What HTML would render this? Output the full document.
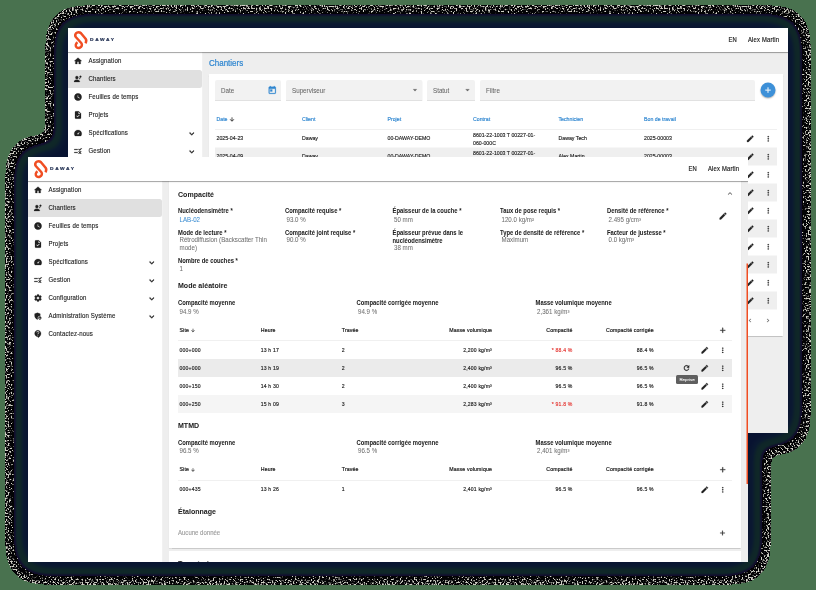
<!DOCTYPE html>
<html><head><meta charset="utf-8"><style>
*{box-sizing:border-box;margin:0;padding:0}
html,body{width:816px;height:590px;overflow:hidden;background:#49724f;font-family:"Liberation Sans",sans-serif;color:#212121}
#shadow{position:absolute;left:0;top:0}
.win{position:absolute;width:1440px;height:810px;transform:scale(0.5);transform-origin:0 0;overflow:hidden;background:#eeeeee}
#bw{left:68px;top:28px}
#fw{left:28px;top:157px}
.hdr{position:absolute;left:0;top:0;width:1440px;height:48px;background:#fff;box-shadow:0 1px 1px rgba(0,0,0,.28),0 2px 4px rgba(0,0,0,.1);z-index:3}
.side{position:absolute;left:0;top:48px;width:270px;height:762px;background:#fff;border-right:1px solid #e3e3e3;z-index:2}
.t{position:absolute;white-space:nowrap;-webkit-text-stroke:0.3px currentColor}
.r{position:absolute}
.ic{position:absolute;display:block}
</style></head><body>
<svg id="shadow" width="816" height="590">
<defs>
<filter id="sh" x="-20%" y="-20%" width="140%" height="140%" color-interpolation-filters="sRGB">
<feGaussianBlur in="SourceAlpha" stdDeviation="12" result="b"/>
<feComponentTransfer in="b" result="m1"><feFuncA type="linear" slope="400" intercept="-8"/></feComponentTransfer>
<feComponentTransfer in="b" result="m2"><feFuncA type="linear" slope="400" intercept="-46"/></feComponentTransfer>
<feTurbulence type="fractalNoise" baseFrequency="0.62" numOctaves="1" seed="7" result="n"/>
<feColorMatrix in="n" type="matrix" values="1 0 0 0 0 1 0 0 0 0 1 0 0 0 0 0 0 0 0 1" result="ng"/>
<feColorMatrix in="b" type="matrix" values="0 0 0 -1 1 0 0 0 -1 1 0 0 0 -1 1 0 0 0 0 1" result="ga0"/>
<feComposite in="ng" in2="ga0" operator="arithmetic" k1="0" k2="1" k3="1.2" k4="-1.176" result="nm"/>
<feColorMatrix in="nm" type="matrix" values="0 0 0 0 0.82 0 0 0 0 0.82 0 0 0 0 0.78 8 0 0 0 -3.84" result="spk"/>
<feFlood flood-color="#030305" result="blk"/>
<feComposite in="spk" in2="blk" operator="over" result="tex"/>
<feComposite in="tex" in2="m1" operator="in" result="o1"/>
<feColorMatrix in="b" type="matrix" values="0 0 0 1 0 0 0 0 1 0 0 0 0 1 0 0 0 0 0 1" result="ga"/>
<feComponentTransfer in="ga" result="grad"><feFuncR type="table" tableValues="0.071 0.071 0.071 0.071 0.071 0.071 0.071 0.068 0.062 0.059 0.059 0.059 0.059 0.059 0.056 0.053 0.049 0.046 0.043 0.042 0.041 0.040 0.039 0.038 0.036 0.035 0.035 0.035 0.035 0.035 0.035 0.035 0.035 0.035 0.035 0.035 0.035 0.035 0.035 0.035 0.035 0.035 0.035 0.035 0.035 0.035 0.035 0.035 0.035 0.035 0.035"/><feFuncG type="table" tableValues="0.047 0.047 0.047 0.047 0.047 0.047 0.047 0.075 0.129 0.156 0.154 0.153 0.151 0.149 0.140 0.130 0.121 0.111 0.102 0.099 0.095 0.092 0.089 0.085 0.082 0.078 0.078 0.078 0.078 0.078 0.078 0.078 0.078 0.078 0.078 0.078 0.078 0.078 0.078 0.078 0.078 0.078 0.078 0.078 0.078 0.078 0.078 0.078 0.078 0.078 0.078"/><feFuncB type="table" tableValues="0.180 0.180 0.180 0.180 0.180 0.180 0.180 0.175 0.163 0.157 0.157 0.157 0.157 0.157 0.165 0.173 0.180 0.188 0.196 0.196 0.196 0.196 0.196 0.196 0.196 0.196 0.196 0.196 0.196 0.196 0.196 0.196 0.196 0.196 0.196 0.196 0.196 0.196 0.196 0.196 0.196 0.196 0.196 0.196 0.196 0.196 0.196 0.196 0.196 0.196 0.196"/></feComponentTransfer>
<feComposite in="grad" in2="m2" operator="in" result="o2"/>
<feMerge><feMergeNode in="o1"/><feMergeNode in="o2"/></feMerge>
</filter>
</defs>
<g filter="url(#sh)"><rect x="68" y="28" width="720" height="405" fill="#000"/><rect x="28" y="157" width="720" height="405" fill="#000"/></g>
</svg>
<div class="win" id="bw"><div class="hdr"><svg class="ic" style="left:1.5px;top:1px;width:48px;height:48px" viewBox="0 0 48 48"><path fill="none" stroke="#f04e23" stroke-width="5" stroke-linecap="butt" stroke-linejoin="round" d="M32.8 29.5 C35 26 35 23 33.2 20.5 L24 9.5 C21 6.5 16.5 6.5 14 9.5 C12 12 12 15 14 17.5 L24.5 29 C27 32 26 37 21.5 38.5 C17 40 13 37 13.5 33 C14 30 15.5 28.5 17 27.5"/></svg><div class="t" style="left:44.0px;top:17.8px;font-size:8.4px;line-height:10.08px;color:#1c2b4e;font-weight:bold;letter-spacing:2.85px;transform:scaleX(1.16);transform-origin:0 0;-webkit-text-stroke:0.35px #1c2b4e">DAWAY</div><div class="t" style="left:1321.0px;top:15.2px;font-size:13px;line-height:15.6px;color:#212121;font-weight:normal;letter-spacing:.4px;-webkit-text-stroke:0.35px #212121;transform:scaleX(0.9);transform-origin:left center">EN</div><div class="t" style="left:1360.0px;top:15.2px;font-size:13px;line-height:15.6px;color:#212121;font-weight:normal;letter-spacing:.4px;-webkit-text-stroke:0.35px #212121;transform:scaleX(0.9);transform-origin:left center">Alex Martin</div></div><div class="side"><svg class="ic" style="left:11.0px;top:9.0px;width:18px;height:18px" viewBox="0 0 24 24"><path fill="#212121" stroke="#212121" stroke-width="0.6" stroke-linejoin="round" d="M10 20v-6h4v6h5v-8h3L12 3 2 12h3v8z"/></svg><div class="t" style="left:41.0px;top:8.3px;font-size:14.2px;line-height:17.04px;color:#212121;font-weight:normal;letter-spacing:0.3px;-webkit-text-stroke:0.25px #212121;transform:scaleX(0.86);transform-origin:left center">Assignation</div><div class="r" style="left:0px;top:36px;width:268px;height:36px;background:#e0e0e0;border-radius:0 5px 5px 0"></div><svg class="ic" style="left:11.0px;top:45.0px;width:18px;height:18px" viewBox="0 0 24 24"><path fill="#212121" stroke="#212121" stroke-width="0.6" stroke-linejoin="round" d="M9 4a4 4 0 1 1 0 8 4 4 0 0 1 0-8zm0 10c-3.5 0-7.5 1.75-7.5 4.2V20h15v-1.8c0-2.45-4-4.2-7.5-4.2zM18.6 3.2a2.4 2.4 0 1 1 0 4.8 2.4 2.4 0 0 1 0-4.8zM17.2 8.2l1.3.7-2.1 3.6-1.3-.7z"/></svg><div class="t" style="left:41.0px;top:44.3px;font-size:14.2px;line-height:17.04px;color:#212121;font-weight:normal;letter-spacing:0.3px;-webkit-text-stroke:0.25px #212121;transform:scaleX(0.86);transform-origin:left center">Chantiers</div><svg class="ic" style="left:11.0px;top:81.0px;width:18px;height:18px" viewBox="0 0 24 24"><path fill="#212121" fill-rule="evenodd" stroke="#212121" stroke-width="0.15" stroke-linejoin="round" d="M11.99 2C6.47 2 2 6.48 2 12s4.47 10 9.99 10C17.52 22 22 17.52 22 12S17.52 2 11.99 2zM16.2 16.2 11 13V7h1.5v5.2l4.5 2.7-.8 1.3z"/></svg><div class="t" style="left:41.0px;top:80.3px;font-size:14.2px;line-height:17.04px;color:#212121;font-weight:normal;letter-spacing:0.3px;-webkit-text-stroke:0.25px #212121;transform:scaleX(0.86);transform-origin:left center">Feuilles de temps</div><svg class="ic" style="left:11.0px;top:117.0px;width:18px;height:18px" viewBox="0 0 24 24"><path fill="#212121" stroke="#212121" stroke-width="0.6" stroke-linejoin="round" d="M14 2H6c-1.1 0-1.99.9-1.99 2L4 20c0 1.1.89 2 1.99 2H18c1.1 0 2-.9 2-2V8l-6-6zm-3.06 16L7.4 14.46l1.41-1.41 2.12 2.12 4.24-4.24 1.41 1.41L10.94 18zM13 9V3.5L18.5 9H13z"/></svg><div class="t" style="left:41.0px;top:116.3px;font-size:14.2px;line-height:17.04px;color:#212121;font-weight:normal;letter-spacing:0.3px;-webkit-text-stroke:0.25px #212121;transform:scaleX(0.86);transform-origin:left center">Projets</div><svg class="ic" style="left:11.0px;top:153.0px;width:18px;height:18px" viewBox="0 0 24 24"><path fill="#212121" stroke="#212121" stroke-width="0.6" stroke-linejoin="round" d="M12 4C6.48 4 2 8.48 2 14c0 2.02.6 3.9 1.63 5.47.2.33.56.53.95.53h14.84c.39 0 .75-.2.95-.53C21.4 17.9 22 16.02 22 14c0-5.52-4.48-10-10-10zm1.41 11.41c-.78.78-2.05.78-2.83 0-.78-.78-.78-2.05 0-2.83L17 9l-3.59 6.41z"/></svg><div class="t" style="left:41.0px;top:152.3px;font-size:14.2px;line-height:17.04px;color:#212121;font-weight:normal;letter-spacing:0.3px;-webkit-text-stroke:0.25px #212121;transform:scaleX(0.86);transform-origin:left center">Spécifications</div><svg class="ic" style="left:237.5px;top:153.5px;width:19px;height:19px" viewBox="0 0 24 24"><path fill="#212121" stroke="#212121" stroke-width="1.2" stroke-linejoin="round" d="M16.59 8.59 12 13.17 7.41 8.59 6 10l6 6 6-6z"/></svg><svg class="ic" style="left:11.0px;top:189.0px;width:18px;height:18px" viewBox="0 0 24 24"><path fill="#212121" stroke="#212121" stroke-width="0.6" stroke-linejoin="round" d="M16.54 11 13 7.46l1.41-1.41 2.12 2.12 4.24-4.24 1.41 1.41L16.54 11zM11 7H2v2h9V7zm10 6.41L19.59 12 17 14.59 14.41 12 13 13.41 15.59 16 13 18.59 14.41 20 17 17.41 19.59 20 21 18.59 18.41 16 21 13.41zM11 15H2v2h9v-2z"/></svg><div class="t" style="left:41.0px;top:188.3px;font-size:14.2px;line-height:17.04px;color:#212121;font-weight:normal;letter-spacing:0.3px;-webkit-text-stroke:0.25px #212121;transform:scaleX(0.86);transform-origin:left center">Gestion</div><svg class="ic" style="left:237.5px;top:189.5px;width:19px;height:19px" viewBox="0 0 24 24"><path fill="#212121" stroke="#212121" stroke-width="1.2" stroke-linejoin="round" d="M16.59 8.59 12 13.17 7.41 8.59 6 10l6 6 6-6z"/></svg><svg class="ic" style="left:11.0px;top:225.0px;width:18px;height:18px" viewBox="0 0 24 24"><path fill="#212121" stroke="#212121" stroke-width="0.6" stroke-linejoin="round" d="M19.14 12.94c.04-.3.06-.61.06-.94 0-.32-.02-.64-.07-.94l2.03-1.58a.49.49 0 0 0 .12-.61l-1.92-3.32a.488.488 0 0 0-.59-.22l-2.39.96c-.5-.38-1.03-.7-1.62-.94l-.36-2.54a.484.484 0 0 0-.48-.41h-3.84c-.24 0-.43.17-.47.41l-.36 2.54c-.59.24-1.13.57-1.62.94l-2.39-.96c-.22-.08-.47 0-.59.22L2.74 8.87c-.12.21-.08.47.12.61l2.03 1.58c-.05.3-.09.63-.09.94s.02.64.07.94l-2.03 1.58a.49.49 0 0 0-.12.61l1.92 3.32c.12.22.37.29.59.22l2.39-.96c.5.38 1.03.7 1.62.94l.36 2.54c.05.24.24.41.48.41h3.84c.24 0 .44-.17.47-.41l.36-2.54c.59-.24 1.13-.56 1.62-.94l2.39.96c.22.08.47 0 .59-.22l1.92-3.32c.12-.22.07-.47-.12-.61l-2.01-1.58zM12 15.6c-1.98 0-3.6-1.62-3.6-3.6s1.62-3.6 3.6-3.6 3.6 1.62 3.6 3.6-1.62 3.6-3.6 3.6z"/></svg><div class="t" style="left:41.0px;top:224.3px;font-size:14.2px;line-height:17.04px;color:#212121;font-weight:normal;letter-spacing:0.3px;-webkit-text-stroke:0.25px #212121;transform:scaleX(0.86);transform-origin:left center">Configuration</div><svg class="ic" style="left:237.5px;top:225.5px;width:19px;height:19px" viewBox="0 0 24 24"><path fill="#212121" stroke="#212121" stroke-width="1.2" stroke-linejoin="round" d="M16.59 8.59 12 13.17 7.41 8.59 6 10l6 6 6-6z"/></svg><svg class="ic" style="left:11.0px;top:261.0px;width:18px;height:18px" viewBox="0 0 24 24"><path fill="#212121" stroke="#212121" stroke-width="0.6" stroke-linejoin="round" d="M17 11c.34 0 .67.04 1 .09V6.27L10.5 3 3 6.27v4.91c0 4.54 3.2 8.79 7.5 9.82.55-.13 1.08-.32 1.6-.55-.69-.98-1.1-2.17-1.1-3.45 0-3.31 2.69-6 6-6zm0 2c-2.21 0-4 1.79-4 4s1.79 4 4 4 4-1.79 4-4-1.79-4-4-4zm0 1.38c.62 0 1.12.51 1.12 1.12s-.51 1.12-1.12 1.12-1.12-.51-1.12-1.12.5-1.12 1.12-1.12zm0 5.37c-.93 0-1.74-.46-2.24-1.17.05-.72 1.51-1.08 2.24-1.08s2.19.36 2.24 1.08c-.5.71-1.31 1.17-2.24 1.17z"/></svg><div class="t" style="left:41.0px;top:260.3px;font-size:14.2px;line-height:17.04px;color:#212121;font-weight:normal;letter-spacing:0.3px;-webkit-text-stroke:0.25px #212121;transform:scaleX(0.86);transform-origin:left center">Administration Système</div><svg class="ic" style="left:237.5px;top:261.5px;width:19px;height:19px" viewBox="0 0 24 24"><path fill="#212121" stroke="#212121" stroke-width="1.2" stroke-linejoin="round" d="M16.59 8.59 12 13.17 7.41 8.59 6 10l6 6 6-6z"/></svg><svg class="ic" style="left:11.0px;top:297.0px;width:18px;height:18px" viewBox="0 0 24 24"><path fill="#212121" stroke="#212121" stroke-width="0.6" stroke-linejoin="round" d="M11.5 2C6.81 2 3 5.81 3 10.5S6.81 19 11.5 19h.5v3c4.86-2.34 8-7 8-11.5C20 5.81 16.19 2 11.5 2zm1 14.5h-2v-2h2v2zm.4-4.78c-.01.01-.02.03-.03.05-.05.08-.1.16-.14.24-.02.03-.03.07-.04.11-.03.07-.06.14-.08.21-.07.21-.1.43-.1.68H10.5c0-.51.08-.94.2-1.3.01-.03.01-.05.02-.08.01-.02.02-.04.03-.06.06-.16.13-.3.22-.44.03-.05.07-.1.1-.15.03-.04.05-.09.08-.12.03-.04.07-.07.1-.11.84-1.1 2.22-1.44 2.33-2.68.09-.98-.61-1.93-1.57-2.13-1.04-.22-1.98.39-2.3 1.28-.14.36-.47.65-.88.65h-.2c-.6 0-1.04-.59-.87-1.17.55-1.82 2.37-3.09 4.43-2.79 1.69.25 3.04 1.64 3.33 3.33.44 2.44-1.63 3.03-2.53 4.35z"/></svg><div class="t" style="left:41.0px;top:296.3px;font-size:14.2px;line-height:17.04px;color:#212121;font-weight:normal;letter-spacing:0.3px;-webkit-text-stroke:0.25px #212121;transform:scaleX(0.86);transform-origin:left center">Contactez-nous</div></div><div class="t" style="left:282.0px;top:57.8px;font-size:18.6px;line-height:22.32px;color:#2f86d0;font-weight:normal;-webkit-text-stroke:0.45px #2f86d0;transform:scaleX(0.86);transform-origin:left center">Chantiers</div><div class="r" style="left:282px;top:92px;width:1148px;height:524px;background:#fff;box-shadow:0 1px 2px rgba(0,0,0,.18)"></div><div class="r" style="left:294px;top:104px;width:132px;height:41px;background:#f2f2f2;border-bottom:1.5px solid #8f8f8f;border-radius:4px 4px 0 0"></div><div class="t" style="left:306.0px;top:115.5px;font-size:14.2px;line-height:17.04px;color:#666;font-weight:normal;-webkit-text-stroke:0.1px #666;transform:scaleX(0.88);transform-origin:left center">Date</div><div class="r" style="left:436px;top:104px;width:273px;height:41px;background:#f2f2f2;border-bottom:1.5px solid #8f8f8f;border-radius:4px 4px 0 0"></div><div class="t" style="left:448.0px;top:115.5px;font-size:14.2px;line-height:17.04px;color:#666;font-weight:normal;-webkit-text-stroke:0.1px #666;transform:scaleX(0.88);transform-origin:left center">Superviseur</div><svg class="ic" style="left:684.5px;top:115.0px;width:18px;height:18px" viewBox="0 0 24 24"><path fill="#666" stroke="#666" stroke-width="0.6" stroke-linejoin="round" d="M7 10l5 5 5-5z"/></svg><div class="r" style="left:718px;top:104px;width:96px;height:41px;background:#f2f2f2;border-bottom:1.5px solid #8f8f8f;border-radius:4px 4px 0 0"></div><div class="t" style="left:730.0px;top:115.5px;font-size:14.2px;line-height:17.04px;color:#666;font-weight:normal;-webkit-text-stroke:0.1px #666;transform:scaleX(0.88);transform-origin:left center">Statut</div><svg class="ic" style="left:790.0px;top:115.0px;width:18px;height:18px" viewBox="0 0 24 24"><path fill="#666" stroke="#666" stroke-width="0.6" stroke-linejoin="round" d="M7 10l5 5 5-5z"/></svg><div class="r" style="left:824px;top:104px;width:550px;height:41px;background:#f2f2f2;border-bottom:1.5px solid #8f8f8f;border-radius:4px 4px 0 0"></div><div class="t" style="left:836.0px;top:115.5px;font-size:14.2px;line-height:17.04px;color:#666;font-weight:normal;-webkit-text-stroke:0.1px #666;transform:scaleX(0.88);transform-origin:left center">Filtre</div><svg class="ic" style="left:398.5px;top:114.5px;width:19px;height:19px" viewBox="0 0 24 24"><path fill="#2f86d0" stroke="#2f86d0" stroke-width="0.6" stroke-linejoin="round" d="M19 3h-1V1h-2v2H8V1H6v2H5c-1.11 0-1.99.9-1.99 2L3 19c0 1.1.89 2 2 2h14c1.1 0 2-.9 2-2V5c0-1.1-.9-2-2-2zm0 16H5V8h14v11zM7 10h5v5H7z"/></svg><div class="r" style="left:1385px;top:109px;width:30px;height:30px;border-radius:50%;background:#3d90d8;box-shadow:0 2px 3px rgba(0,0,0,.3)"></div><svg class="ic" style="left:1391.0px;top:115.0px;width:18px;height:18px" viewBox="0 0 24 24"><path fill="#fff" stroke="#fff" stroke-width="0.6" stroke-linejoin="round" d="M19 13h-6v6h-2v-6H5v-2h6V5h2v6h6v2z"/></svg><div class="t" style="left:297.0px;top:174.5px;font-size:11.6px;line-height:13.92px;color:#2f86d0;font-weight:normal;-webkit-text-stroke:0.35px #2f86d0;transform:scaleX(0.9);transform-origin:left center">Date</div><div class="t" style="left:468.0px;top:174.5px;font-size:11.6px;line-height:13.92px;color:#2f86d0;font-weight:normal;-webkit-text-stroke:0.35px #2f86d0;transform:scaleX(0.9);transform-origin:left center">Client</div><div class="t" style="left:639.0px;top:174.5px;font-size:11.6px;line-height:13.92px;color:#2f86d0;font-weight:normal;-webkit-text-stroke:0.35px #2f86d0;transform:scaleX(0.9);transform-origin:left center">Projet</div><div class="t" style="left:809.5px;top:174.5px;font-size:11.6px;line-height:13.92px;color:#2f86d0;font-weight:normal;-webkit-text-stroke:0.35px #2f86d0;transform:scaleX(0.9);transform-origin:left center">Contrat</div><div class="t" style="left:980.5px;top:174.5px;font-size:11.6px;line-height:13.92px;color:#2f86d0;font-weight:normal;-webkit-text-stroke:0.35px #2f86d0;transform:scaleX(0.9);transform-origin:left center">Technicien</div><div class="t" style="left:1151.5px;top:174.5px;font-size:11.6px;line-height:13.92px;color:#2f86d0;font-weight:normal;-webkit-text-stroke:0.35px #2f86d0;transform:scaleX(0.9);transform-origin:left center">Bon de travail</div><svg class="ic" style="left:322.0px;top:176.5px;width:12px;height:12px" viewBox="0 0 24 24"><path fill="#333" stroke="#333" stroke-width="1" stroke-linejoin="round" d="M20 12l-1.41-1.41L13 16.17V4h-2v12.17l-5.58-5.59L4 12l8 8 8-8z"/></svg><div class="r" style="left:294px;top:202px;width:1124px;height:1px;background:#e0e0e0;"></div><div class="t" style="left:297.0px;top:212.0px;font-size:11.6px;line-height:13.92px;color:#212121;font-weight:normal;;transform:scaleX(0.9);transform-origin:left center">2025-04-23</div><div class="t" style="left:468.0px;top:212.0px;font-size:11.6px;line-height:13.92px;color:#212121;font-weight:normal;;transform:scaleX(0.9);transform-origin:left center">Daway</div><div class="t" style="left:639.0px;top:212.0px;font-size:11.6px;line-height:13.92px;color:#212121;font-weight:normal;;transform:scaleX(0.9);transform-origin:left center">00-DAWAY-DEMO</div><div class="t" style="left:809.5px;top:205.5px;font-size:11.6px;line-height:15px;color:#212121;font-weight:normal;;transform:scaleX(0.9);transform-origin:left center">8601-22-1003 T 00227-01-<br>060-000C</div><div class="t" style="left:980.5px;top:212.0px;font-size:11.6px;line-height:13.92px;color:#212121;font-weight:normal;;transform:scaleX(0.9);transform-origin:left center">Daway Tech</div><div class="t" style="left:1151.5px;top:212.0px;font-size:11.6px;line-height:13.92px;color:#212121;font-weight:normal;;transform:scaleX(0.9);transform-origin:left center">2025-00003</div><svg class="ic" style="left:1355.5px;top:212.5px;width:17px;height:17px" viewBox="0 0 24 24"><path fill="#212121" stroke="#212121" stroke-width="0.9" stroke-linejoin="round" d="M3 17.25V21h3.75L17.81 9.94l-3.75-3.75L3 17.25zM20.71 7.04c.39-.39.39-1.02 0-1.41l-2.34-2.34a.996.996 0 0 0-1.41 0l-1.83 1.83 3.75 3.75 1.83-1.83z"/></svg><svg class="ic" style="left:1391.5px;top:212.5px;width:17px;height:17px" viewBox="0 0 24 24"><path fill="#212121" stroke="#212121" stroke-width="0.4" stroke-linejoin="round" d="M12 8c1.1 0 2-.9 2-2s-.9-2-2-2-2 .9-2 2 .9 2 2 2zm0 2c-1.1 0-2 .9-2 2s.9 2 2 2 2-.9 2-2-.9-2-2-2zm0 6c-1.1 0-2 .9-2 2s.9 2 2 2 2-.9 2-2-.9-2-2-2z"/></svg><div class="r" style="left:294px;top:239px;width:1124px;height:36px;background:#efefef;"></div><div class="t" style="left:297.0px;top:248.0px;font-size:11.6px;line-height:13.92px;color:#212121;font-weight:normal;;transform:scaleX(0.9);transform-origin:left center">2025-04-09</div><div class="t" style="left:468.0px;top:248.0px;font-size:11.6px;line-height:13.92px;color:#212121;font-weight:normal;;transform:scaleX(0.9);transform-origin:left center">Daway</div><div class="t" style="left:639.0px;top:248.0px;font-size:11.6px;line-height:13.92px;color:#212121;font-weight:normal;;transform:scaleX(0.9);transform-origin:left center">00-DAWAY-DEMO</div><div class="t" style="left:809.5px;top:241.5px;font-size:11.6px;line-height:15px;color:#212121;font-weight:normal;;transform:scaleX(0.9);transform-origin:left center">8601-22-1003 T 00227-01-<br>060-000C</div><div class="t" style="left:980.5px;top:248.0px;font-size:11.6px;line-height:13.92px;color:#212121;font-weight:normal;;transform:scaleX(0.9);transform-origin:left center">Alex Martin</div><div class="t" style="left:1151.5px;top:248.0px;font-size:11.6px;line-height:13.92px;color:#212121;font-weight:normal;;transform:scaleX(0.9);transform-origin:left center">2025-00003</div><svg class="ic" style="left:1355.5px;top:248.5px;width:17px;height:17px" viewBox="0 0 24 24"><path fill="#212121" stroke="#212121" stroke-width="0.9" stroke-linejoin="round" d="M3 17.25V21h3.75L17.81 9.94l-3.75-3.75L3 17.25zM20.71 7.04c.39-.39.39-1.02 0-1.41l-2.34-2.34a.996.996 0 0 0-1.41 0l-1.83 1.83 3.75 3.75 1.83-1.83z"/></svg><svg class="ic" style="left:1391.5px;top:248.5px;width:17px;height:17px" viewBox="0 0 24 24"><path fill="#212121" stroke="#212121" stroke-width="0.4" stroke-linejoin="round" d="M12 8c1.1 0 2-.9 2-2s-.9-2-2-2-2 .9-2 2 .9 2 2 2zm0 2c-1.1 0-2 .9-2 2s.9 2 2 2 2-.9 2-2-.9-2-2-2zm0 6c-1.1 0-2 .9-2 2s.9 2 2 2 2-.9 2-2-.9-2-2-2z"/></svg><div class="t" style="left:297.0px;top:284.0px;font-size:11.6px;line-height:13.92px;color:#212121;font-weight:normal;;transform:scaleX(0.9);transform-origin:left center">2025-04-23</div><div class="t" style="left:468.0px;top:284.0px;font-size:11.6px;line-height:13.92px;color:#212121;font-weight:normal;;transform:scaleX(0.9);transform-origin:left center">Daway</div><div class="t" style="left:639.0px;top:284.0px;font-size:11.6px;line-height:13.92px;color:#212121;font-weight:normal;;transform:scaleX(0.9);transform-origin:left center">00-DAWAY-DEMO</div><div class="t" style="left:809.5px;top:277.5px;font-size:11.6px;line-height:15px;color:#212121;font-weight:normal;;transform:scaleX(0.9);transform-origin:left center">8601-22-1003 T 00227-01-<br>060-000C</div><div class="t" style="left:980.5px;top:284.0px;font-size:11.6px;line-height:13.92px;color:#212121;font-weight:normal;;transform:scaleX(0.9);transform-origin:left center">Daway Tech</div><div class="t" style="left:1151.5px;top:284.0px;font-size:11.6px;line-height:13.92px;color:#212121;font-weight:normal;;transform:scaleX(0.9);transform-origin:left center">2025-00003</div><svg class="ic" style="left:1355.5px;top:284.5px;width:17px;height:17px" viewBox="0 0 24 24"><path fill="#212121" stroke="#212121" stroke-width="0.9" stroke-linejoin="round" d="M3 17.25V21h3.75L17.81 9.94l-3.75-3.75L3 17.25zM20.71 7.04c.39-.39.39-1.02 0-1.41l-2.34-2.34a.996.996 0 0 0-1.41 0l-1.83 1.83 3.75 3.75 1.83-1.83z"/></svg><svg class="ic" style="left:1391.5px;top:284.5px;width:17px;height:17px" viewBox="0 0 24 24"><path fill="#212121" stroke="#212121" stroke-width="0.4" stroke-linejoin="round" d="M12 8c1.1 0 2-.9 2-2s-.9-2-2-2-2 .9-2 2 .9 2 2 2zm0 2c-1.1 0-2 .9-2 2s.9 2 2 2 2-.9 2-2-.9-2-2-2zm0 6c-1.1 0-2 .9-2 2s.9 2 2 2 2-.9 2-2-.9-2-2-2z"/></svg><div class="r" style="left:294px;top:311px;width:1124px;height:36px;background:#efefef;"></div><div class="t" style="left:297.0px;top:320.0px;font-size:11.6px;line-height:13.92px;color:#212121;font-weight:normal;;transform:scaleX(0.9);transform-origin:left center">2025-04-09</div><div class="t" style="left:468.0px;top:320.0px;font-size:11.6px;line-height:13.92px;color:#212121;font-weight:normal;;transform:scaleX(0.9);transform-origin:left center">Daway</div><div class="t" style="left:639.0px;top:320.0px;font-size:11.6px;line-height:13.92px;color:#212121;font-weight:normal;;transform:scaleX(0.9);transform-origin:left center">00-DAWAY-DEMO</div><div class="t" style="left:809.5px;top:313.5px;font-size:11.6px;line-height:15px;color:#212121;font-weight:normal;;transform:scaleX(0.9);transform-origin:left center">8601-22-1003 T 00227-01-<br>060-000C</div><div class="t" style="left:980.5px;top:320.0px;font-size:11.6px;line-height:13.92px;color:#212121;font-weight:normal;;transform:scaleX(0.9);transform-origin:left center">Alex Martin</div><div class="t" style="left:1151.5px;top:320.0px;font-size:11.6px;line-height:13.92px;color:#212121;font-weight:normal;;transform:scaleX(0.9);transform-origin:left center">2025-00003</div><svg class="ic" style="left:1355.5px;top:320.5px;width:17px;height:17px" viewBox="0 0 24 24"><path fill="#212121" stroke="#212121" stroke-width="0.9" stroke-linejoin="round" d="M3 17.25V21h3.75L17.81 9.94l-3.75-3.75L3 17.25zM20.71 7.04c.39-.39.39-1.02 0-1.41l-2.34-2.34a.996.996 0 0 0-1.41 0l-1.83 1.83 3.75 3.75 1.83-1.83z"/></svg><svg class="ic" style="left:1391.5px;top:320.5px;width:17px;height:17px" viewBox="0 0 24 24"><path fill="#212121" stroke="#212121" stroke-width="0.4" stroke-linejoin="round" d="M12 8c1.1 0 2-.9 2-2s-.9-2-2-2-2 .9-2 2 .9 2 2 2zm0 2c-1.1 0-2 .9-2 2s.9 2 2 2 2-.9 2-2-.9-2-2-2zm0 6c-1.1 0-2 .9-2 2s.9 2 2 2 2-.9 2-2-.9-2-2-2z"/></svg><div class="t" style="left:297.0px;top:356.0px;font-size:11.6px;line-height:13.92px;color:#212121;font-weight:normal;;transform:scaleX(0.9);transform-origin:left center">2025-04-23</div><div class="t" style="left:468.0px;top:356.0px;font-size:11.6px;line-height:13.92px;color:#212121;font-weight:normal;;transform:scaleX(0.9);transform-origin:left center">Daway</div><div class="t" style="left:639.0px;top:356.0px;font-size:11.6px;line-height:13.92px;color:#212121;font-weight:normal;;transform:scaleX(0.9);transform-origin:left center">00-DAWAY-DEMO</div><div class="t" style="left:809.5px;top:349.5px;font-size:11.6px;line-height:15px;color:#212121;font-weight:normal;;transform:scaleX(0.9);transform-origin:left center">8601-22-1003 T 00227-01-<br>060-000C</div><div class="t" style="left:980.5px;top:356.0px;font-size:11.6px;line-height:13.92px;color:#212121;font-weight:normal;;transform:scaleX(0.9);transform-origin:left center">Daway Tech</div><div class="t" style="left:1151.5px;top:356.0px;font-size:11.6px;line-height:13.92px;color:#212121;font-weight:normal;;transform:scaleX(0.9);transform-origin:left center">2025-00003</div><svg class="ic" style="left:1355.5px;top:356.5px;width:17px;height:17px" viewBox="0 0 24 24"><path fill="#212121" stroke="#212121" stroke-width="0.9" stroke-linejoin="round" d="M3 17.25V21h3.75L17.81 9.94l-3.75-3.75L3 17.25zM20.71 7.04c.39-.39.39-1.02 0-1.41l-2.34-2.34a.996.996 0 0 0-1.41 0l-1.83 1.83 3.75 3.75 1.83-1.83z"/></svg><svg class="ic" style="left:1391.5px;top:356.5px;width:17px;height:17px" viewBox="0 0 24 24"><path fill="#212121" stroke="#212121" stroke-width="0.4" stroke-linejoin="round" d="M12 8c1.1 0 2-.9 2-2s-.9-2-2-2-2 .9-2 2 .9 2 2 2zm0 2c-1.1 0-2 .9-2 2s.9 2 2 2 2-.9 2-2-.9-2-2-2zm0 6c-1.1 0-2 .9-2 2s.9 2 2 2 2-.9 2-2-.9-2-2-2z"/></svg><div class="r" style="left:294px;top:383px;width:1124px;height:36px;background:#efefef;"></div><div class="t" style="left:297.0px;top:392.0px;font-size:11.6px;line-height:13.92px;color:#212121;font-weight:normal;;transform:scaleX(0.9);transform-origin:left center">2025-04-09</div><div class="t" style="left:468.0px;top:392.0px;font-size:11.6px;line-height:13.92px;color:#212121;font-weight:normal;;transform:scaleX(0.9);transform-origin:left center">Daway</div><div class="t" style="left:639.0px;top:392.0px;font-size:11.6px;line-height:13.92px;color:#212121;font-weight:normal;;transform:scaleX(0.9);transform-origin:left center">00-DAWAY-DEMO</div><div class="t" style="left:809.5px;top:385.5px;font-size:11.6px;line-height:15px;color:#212121;font-weight:normal;;transform:scaleX(0.9);transform-origin:left center">8601-22-1003 T 00227-01-<br>060-000C</div><div class="t" style="left:980.5px;top:392.0px;font-size:11.6px;line-height:13.92px;color:#212121;font-weight:normal;;transform:scaleX(0.9);transform-origin:left center">Alex Martin</div><div class="t" style="left:1151.5px;top:392.0px;font-size:11.6px;line-height:13.92px;color:#212121;font-weight:normal;;transform:scaleX(0.9);transform-origin:left center">2025-00003</div><svg class="ic" style="left:1355.5px;top:392.5px;width:17px;height:17px" viewBox="0 0 24 24"><path fill="#212121" stroke="#212121" stroke-width="0.9" stroke-linejoin="round" d="M3 17.25V21h3.75L17.81 9.94l-3.75-3.75L3 17.25zM20.71 7.04c.39-.39.39-1.02 0-1.41l-2.34-2.34a.996.996 0 0 0-1.41 0l-1.83 1.83 3.75 3.75 1.83-1.83z"/></svg><svg class="ic" style="left:1391.5px;top:392.5px;width:17px;height:17px" viewBox="0 0 24 24"><path fill="#212121" stroke="#212121" stroke-width="0.4" stroke-linejoin="round" d="M12 8c1.1 0 2-.9 2-2s-.9-2-2-2-2 .9-2 2 .9 2 2 2zm0 2c-1.1 0-2 .9-2 2s.9 2 2 2 2-.9 2-2-.9-2-2-2zm0 6c-1.1 0-2 .9-2 2s.9 2 2 2 2-.9 2-2-.9-2-2-2z"/></svg><div class="t" style="left:297.0px;top:428.0px;font-size:11.6px;line-height:13.92px;color:#212121;font-weight:normal;;transform:scaleX(0.9);transform-origin:left center">2025-04-23</div><div class="t" style="left:468.0px;top:428.0px;font-size:11.6px;line-height:13.92px;color:#212121;font-weight:normal;;transform:scaleX(0.9);transform-origin:left center">Daway</div><div class="t" style="left:639.0px;top:428.0px;font-size:11.6px;line-height:13.92px;color:#212121;font-weight:normal;;transform:scaleX(0.9);transform-origin:left center">00-DAWAY-DEMO</div><div class="t" style="left:809.5px;top:421.5px;font-size:11.6px;line-height:15px;color:#212121;font-weight:normal;;transform:scaleX(0.9);transform-origin:left center">8601-22-1003 T 00227-01-<br>060-000C</div><div class="t" style="left:980.5px;top:428.0px;font-size:11.6px;line-height:13.92px;color:#212121;font-weight:normal;;transform:scaleX(0.9);transform-origin:left center">Daway Tech</div><div class="t" style="left:1151.5px;top:428.0px;font-size:11.6px;line-height:13.92px;color:#212121;font-weight:normal;;transform:scaleX(0.9);transform-origin:left center">2025-00003</div><svg class="ic" style="left:1355.5px;top:428.5px;width:17px;height:17px" viewBox="0 0 24 24"><path fill="#212121" stroke="#212121" stroke-width="0.9" stroke-linejoin="round" d="M3 17.25V21h3.75L17.81 9.94l-3.75-3.75L3 17.25zM20.71 7.04c.39-.39.39-1.02 0-1.41l-2.34-2.34a.996.996 0 0 0-1.41 0l-1.83 1.83 3.75 3.75 1.83-1.83z"/></svg><svg class="ic" style="left:1391.5px;top:428.5px;width:17px;height:17px" viewBox="0 0 24 24"><path fill="#212121" stroke="#212121" stroke-width="0.4" stroke-linejoin="round" d="M12 8c1.1 0 2-.9 2-2s-.9-2-2-2-2 .9-2 2 .9 2 2 2zm0 2c-1.1 0-2 .9-2 2s.9 2 2 2 2-.9 2-2-.9-2-2-2zm0 6c-1.1 0-2 .9-2 2s.9 2 2 2 2-.9 2-2-.9-2-2-2z"/></svg><div class="r" style="left:294px;top:455px;width:1124px;height:36px;background:#efefef;"></div><div class="t" style="left:297.0px;top:464.0px;font-size:11.6px;line-height:13.92px;color:#212121;font-weight:normal;;transform:scaleX(0.9);transform-origin:left center">2025-04-09</div><div class="t" style="left:468.0px;top:464.0px;font-size:11.6px;line-height:13.92px;color:#212121;font-weight:normal;;transform:scaleX(0.9);transform-origin:left center">Daway</div><div class="t" style="left:639.0px;top:464.0px;font-size:11.6px;line-height:13.92px;color:#212121;font-weight:normal;;transform:scaleX(0.9);transform-origin:left center">00-DAWAY-DEMO</div><div class="t" style="left:809.5px;top:457.5px;font-size:11.6px;line-height:15px;color:#212121;font-weight:normal;;transform:scaleX(0.9);transform-origin:left center">8601-22-1003 T 00227-01-<br>060-000C</div><div class="t" style="left:980.5px;top:464.0px;font-size:11.6px;line-height:13.92px;color:#212121;font-weight:normal;;transform:scaleX(0.9);transform-origin:left center">Alex Martin</div><div class="t" style="left:1151.5px;top:464.0px;font-size:11.6px;line-height:13.92px;color:#212121;font-weight:normal;;transform:scaleX(0.9);transform-origin:left center">2025-00003</div><svg class="ic" style="left:1355.5px;top:464.5px;width:17px;height:17px" viewBox="0 0 24 24"><path fill="#212121" stroke="#212121" stroke-width="0.9" stroke-linejoin="round" d="M3 17.25V21h3.75L17.81 9.94l-3.75-3.75L3 17.25zM20.71 7.04c.39-.39.39-1.02 0-1.41l-2.34-2.34a.996.996 0 0 0-1.41 0l-1.83 1.83 3.75 3.75 1.83-1.83z"/></svg><svg class="ic" style="left:1391.5px;top:464.5px;width:17px;height:17px" viewBox="0 0 24 24"><path fill="#212121" stroke="#212121" stroke-width="0.4" stroke-linejoin="round" d="M12 8c1.1 0 2-.9 2-2s-.9-2-2-2-2 .9-2 2 .9 2 2 2zm0 2c-1.1 0-2 .9-2 2s.9 2 2 2 2-.9 2-2-.9-2-2-2zm0 6c-1.1 0-2 .9-2 2s.9 2 2 2 2-.9 2-2-.9-2-2-2z"/></svg><div class="t" style="left:297.0px;top:500.0px;font-size:11.6px;line-height:13.92px;color:#212121;font-weight:normal;;transform:scaleX(0.9);transform-origin:left center">2025-04-23</div><div class="t" style="left:468.0px;top:500.0px;font-size:11.6px;line-height:13.92px;color:#212121;font-weight:normal;;transform:scaleX(0.9);transform-origin:left center">Daway</div><div class="t" style="left:639.0px;top:500.0px;font-size:11.6px;line-height:13.92px;color:#212121;font-weight:normal;;transform:scaleX(0.9);transform-origin:left center">00-DAWAY-DEMO</div><div class="t" style="left:809.5px;top:493.5px;font-size:11.6px;line-height:15px;color:#212121;font-weight:normal;;transform:scaleX(0.9);transform-origin:left center">8601-22-1003 T 00227-01-<br>060-000C</div><div class="t" style="left:980.5px;top:500.0px;font-size:11.6px;line-height:13.92px;color:#212121;font-weight:normal;;transform:scaleX(0.9);transform-origin:left center">Daway Tech</div><div class="t" style="left:1151.5px;top:500.0px;font-size:11.6px;line-height:13.92px;color:#212121;font-weight:normal;;transform:scaleX(0.9);transform-origin:left center">2025-00003</div><svg class="ic" style="left:1355.5px;top:500.5px;width:17px;height:17px" viewBox="0 0 24 24"><path fill="#212121" stroke="#212121" stroke-width="0.9" stroke-linejoin="round" d="M3 17.25V21h3.75L17.81 9.94l-3.75-3.75L3 17.25zM20.71 7.04c.39-.39.39-1.02 0-1.41l-2.34-2.34a.996.996 0 0 0-1.41 0l-1.83 1.83 3.75 3.75 1.83-1.83z"/></svg><svg class="ic" style="left:1391.5px;top:500.5px;width:17px;height:17px" viewBox="0 0 24 24"><path fill="#212121" stroke="#212121" stroke-width="0.4" stroke-linejoin="round" d="M12 8c1.1 0 2-.9 2-2s-.9-2-2-2-2 .9-2 2 .9 2 2 2zm0 2c-1.1 0-2 .9-2 2s.9 2 2 2 2-.9 2-2-.9-2-2-2zm0 6c-1.1 0-2 .9-2 2s.9 2 2 2 2-.9 2-2-.9-2-2-2z"/></svg><div class="r" style="left:294px;top:527px;width:1124px;height:36px;background:#efefef;"></div><div class="t" style="left:297.0px;top:536.0px;font-size:11.6px;line-height:13.92px;color:#212121;font-weight:normal;;transform:scaleX(0.9);transform-origin:left center">2025-04-09</div><div class="t" style="left:468.0px;top:536.0px;font-size:11.6px;line-height:13.92px;color:#212121;font-weight:normal;;transform:scaleX(0.9);transform-origin:left center">Daway</div><div class="t" style="left:639.0px;top:536.0px;font-size:11.6px;line-height:13.92px;color:#212121;font-weight:normal;;transform:scaleX(0.9);transform-origin:left center">00-DAWAY-DEMO</div><div class="t" style="left:809.5px;top:529.5px;font-size:11.6px;line-height:15px;color:#212121;font-weight:normal;;transform:scaleX(0.9);transform-origin:left center">8601-22-1003 T 00227-01-<br>060-000C</div><div class="t" style="left:980.5px;top:536.0px;font-size:11.6px;line-height:13.92px;color:#212121;font-weight:normal;;transform:scaleX(0.9);transform-origin:left center">Alex Martin</div><div class="t" style="left:1151.5px;top:536.0px;font-size:11.6px;line-height:13.92px;color:#212121;font-weight:normal;;transform:scaleX(0.9);transform-origin:left center">2025-00003</div><svg class="ic" style="left:1355.5px;top:536.5px;width:17px;height:17px" viewBox="0 0 24 24"><path fill="#212121" stroke="#212121" stroke-width="0.9" stroke-linejoin="round" d="M3 17.25V21h3.75L17.81 9.94l-3.75-3.75L3 17.25zM20.71 7.04c.39-.39.39-1.02 0-1.41l-2.34-2.34a.996.996 0 0 0-1.41 0l-1.83 1.83 3.75 3.75 1.83-1.83z"/></svg><svg class="ic" style="left:1391.5px;top:536.5px;width:17px;height:17px" viewBox="0 0 24 24"><path fill="#212121" stroke="#212121" stroke-width="0.4" stroke-linejoin="round" d="M12 8c1.1 0 2-.9 2-2s-.9-2-2-2-2 .9-2 2 .9 2 2 2zm0 2c-1.1 0-2 .9-2 2s.9 2 2 2 2-.9 2-2-.9-2-2-2zm0 6c-1.1 0-2 .9-2 2s.9 2 2 2 2-.9 2-2-.9-2-2-2z"/></svg><svg class="ic" style="left:1357.0px;top:578.0px;width:14px;height:14px" viewBox="0 0 24 24"><path fill="#666" stroke="#666" stroke-width="0.6" stroke-linejoin="round" d="M15.41 7.41 14 6l-6 6 6 6 1.41-1.41L10.83 12z"/></svg><svg class="ic" style="left:1393.0px;top:578.0px;width:14px;height:14px" viewBox="0 0 24 24"><path fill="#666" stroke="#666" stroke-width="0.6" stroke-linejoin="round" d="M10 6 8.59 7.41 13.17 12l-4.58 4.59L10 18l6-6z"/></svg></div>
<div class="win" id="fw"><div class="hdr"><svg class="ic" style="left:1.5px;top:1px;width:48px;height:48px" viewBox="0 0 48 48"><path fill="none" stroke="#f04e23" stroke-width="5" stroke-linecap="butt" stroke-linejoin="round" d="M32.8 29.5 C35 26 35 23 33.2 20.5 L24 9.5 C21 6.5 16.5 6.5 14 9.5 C12 12 12 15 14 17.5 L24.5 29 C27 32 26 37 21.5 38.5 C17 40 13 37 13.5 33 C14 30 15.5 28.5 17 27.5"/></svg><div class="t" style="left:44.0px;top:17.8px;font-size:8.4px;line-height:10.08px;color:#1c2b4e;font-weight:bold;letter-spacing:2.85px;transform:scaleX(1.16);transform-origin:0 0;-webkit-text-stroke:0.35px #1c2b4e">DAWAY</div><div class="t" style="left:1321.0px;top:15.2px;font-size:13px;line-height:15.6px;color:#212121;font-weight:normal;letter-spacing:.4px;-webkit-text-stroke:0.35px #212121;transform:scaleX(0.9);transform-origin:left center">EN</div><div class="t" style="left:1360.0px;top:15.2px;font-size:13px;line-height:15.6px;color:#212121;font-weight:normal;letter-spacing:.4px;-webkit-text-stroke:0.35px #212121;transform:scaleX(0.9);transform-origin:left center">Alex Martin</div></div><div class="side"><svg class="ic" style="left:11.0px;top:9.0px;width:18px;height:18px" viewBox="0 0 24 24"><path fill="#212121" stroke="#212121" stroke-width="0.6" stroke-linejoin="round" d="M10 20v-6h4v6h5v-8h3L12 3 2 12h3v8z"/></svg><div class="t" style="left:41.0px;top:8.3px;font-size:14.2px;line-height:17.04px;color:#212121;font-weight:normal;letter-spacing:0.3px;-webkit-text-stroke:0.25px #212121;transform:scaleX(0.86);transform-origin:left center">Assignation</div><div class="r" style="left:0px;top:36px;width:268px;height:36px;background:#e0e0e0;border-radius:0 5px 5px 0"></div><svg class="ic" style="left:11.0px;top:45.0px;width:18px;height:18px" viewBox="0 0 24 24"><path fill="#212121" stroke="#212121" stroke-width="0.6" stroke-linejoin="round" d="M9 4a4 4 0 1 1 0 8 4 4 0 0 1 0-8zm0 10c-3.5 0-7.5 1.75-7.5 4.2V20h15v-1.8c0-2.45-4-4.2-7.5-4.2zM18.6 3.2a2.4 2.4 0 1 1 0 4.8 2.4 2.4 0 0 1 0-4.8zM17.2 8.2l1.3.7-2.1 3.6-1.3-.7z"/></svg><div class="t" style="left:41.0px;top:44.3px;font-size:14.2px;line-height:17.04px;color:#212121;font-weight:normal;letter-spacing:0.3px;-webkit-text-stroke:0.25px #212121;transform:scaleX(0.86);transform-origin:left center">Chantiers</div><svg class="ic" style="left:11.0px;top:81.0px;width:18px;height:18px" viewBox="0 0 24 24"><path fill="#212121" fill-rule="evenodd" stroke="#212121" stroke-width="0.15" stroke-linejoin="round" d="M11.99 2C6.47 2 2 6.48 2 12s4.47 10 9.99 10C17.52 22 22 17.52 22 12S17.52 2 11.99 2zM16.2 16.2 11 13V7h1.5v5.2l4.5 2.7-.8 1.3z"/></svg><div class="t" style="left:41.0px;top:80.3px;font-size:14.2px;line-height:17.04px;color:#212121;font-weight:normal;letter-spacing:0.3px;-webkit-text-stroke:0.25px #212121;transform:scaleX(0.86);transform-origin:left center">Feuilles de temps</div><svg class="ic" style="left:11.0px;top:117.0px;width:18px;height:18px" viewBox="0 0 24 24"><path fill="#212121" stroke="#212121" stroke-width="0.6" stroke-linejoin="round" d="M14 2H6c-1.1 0-1.99.9-1.99 2L4 20c0 1.1.89 2 1.99 2H18c1.1 0 2-.9 2-2V8l-6-6zm-3.06 16L7.4 14.46l1.41-1.41 2.12 2.12 4.24-4.24 1.41 1.41L10.94 18zM13 9V3.5L18.5 9H13z"/></svg><div class="t" style="left:41.0px;top:116.3px;font-size:14.2px;line-height:17.04px;color:#212121;font-weight:normal;letter-spacing:0.3px;-webkit-text-stroke:0.25px #212121;transform:scaleX(0.86);transform-origin:left center">Projets</div><svg class="ic" style="left:11.0px;top:153.0px;width:18px;height:18px" viewBox="0 0 24 24"><path fill="#212121" stroke="#212121" stroke-width="0.6" stroke-linejoin="round" d="M12 4C6.48 4 2 8.48 2 14c0 2.02.6 3.9 1.63 5.47.2.33.56.53.95.53h14.84c.39 0 .75-.2.95-.53C21.4 17.9 22 16.02 22 14c0-5.52-4.48-10-10-10zm1.41 11.41c-.78.78-2.05.78-2.83 0-.78-.78-.78-2.05 0-2.83L17 9l-3.59 6.41z"/></svg><div class="t" style="left:41.0px;top:152.3px;font-size:14.2px;line-height:17.04px;color:#212121;font-weight:normal;letter-spacing:0.3px;-webkit-text-stroke:0.25px #212121;transform:scaleX(0.86);transform-origin:left center">Spécifications</div><svg class="ic" style="left:237.5px;top:153.5px;width:19px;height:19px" viewBox="0 0 24 24"><path fill="#212121" stroke="#212121" stroke-width="1.2" stroke-linejoin="round" d="M16.59 8.59 12 13.17 7.41 8.59 6 10l6 6 6-6z"/></svg><svg class="ic" style="left:11.0px;top:189.0px;width:18px;height:18px" viewBox="0 0 24 24"><path fill="#212121" stroke="#212121" stroke-width="0.6" stroke-linejoin="round" d="M16.54 11 13 7.46l1.41-1.41 2.12 2.12 4.24-4.24 1.41 1.41L16.54 11zM11 7H2v2h9V7zm10 6.41L19.59 12 17 14.59 14.41 12 13 13.41 15.59 16 13 18.59 14.41 20 17 17.41 19.59 20 21 18.59 18.41 16 21 13.41zM11 15H2v2h9v-2z"/></svg><div class="t" style="left:41.0px;top:188.3px;font-size:14.2px;line-height:17.04px;color:#212121;font-weight:normal;letter-spacing:0.3px;-webkit-text-stroke:0.25px #212121;transform:scaleX(0.86);transform-origin:left center">Gestion</div><svg class="ic" style="left:237.5px;top:189.5px;width:19px;height:19px" viewBox="0 0 24 24"><path fill="#212121" stroke="#212121" stroke-width="1.2" stroke-linejoin="round" d="M16.59 8.59 12 13.17 7.41 8.59 6 10l6 6 6-6z"/></svg><svg class="ic" style="left:11.0px;top:225.0px;width:18px;height:18px" viewBox="0 0 24 24"><path fill="#212121" stroke="#212121" stroke-width="0.6" stroke-linejoin="round" d="M19.14 12.94c.04-.3.06-.61.06-.94 0-.32-.02-.64-.07-.94l2.03-1.58a.49.49 0 0 0 .12-.61l-1.92-3.32a.488.488 0 0 0-.59-.22l-2.39.96c-.5-.38-1.03-.7-1.62-.94l-.36-2.54a.484.484 0 0 0-.48-.41h-3.84c-.24 0-.43.17-.47.41l-.36 2.54c-.59.24-1.13.57-1.62.94l-2.39-.96c-.22-.08-.47 0-.59.22L2.74 8.87c-.12.21-.08.47.12.61l2.03 1.58c-.05.3-.09.63-.09.94s.02.64.07.94l-2.03 1.58a.49.49 0 0 0-.12.61l1.92 3.32c.12.22.37.29.59.22l2.39-.96c.5.38 1.03.7 1.62.94l.36 2.54c.05.24.24.41.48.41h3.84c.24 0 .44-.17.47-.41l.36-2.54c.59-.24 1.13-.56 1.62-.94l2.39.96c.22.08.47 0 .59-.22l1.92-3.32c.12-.22.07-.47-.12-.61l-2.01-1.58zM12 15.6c-1.98 0-3.6-1.62-3.6-3.6s1.62-3.6 3.6-3.6 3.6 1.62 3.6 3.6-1.62 3.6-3.6 3.6z"/></svg><div class="t" style="left:41.0px;top:224.3px;font-size:14.2px;line-height:17.04px;color:#212121;font-weight:normal;letter-spacing:0.3px;-webkit-text-stroke:0.25px #212121;transform:scaleX(0.86);transform-origin:left center">Configuration</div><svg class="ic" style="left:237.5px;top:225.5px;width:19px;height:19px" viewBox="0 0 24 24"><path fill="#212121" stroke="#212121" stroke-width="1.2" stroke-linejoin="round" d="M16.59 8.59 12 13.17 7.41 8.59 6 10l6 6 6-6z"/></svg><svg class="ic" style="left:11.0px;top:261.0px;width:18px;height:18px" viewBox="0 0 24 24"><path fill="#212121" stroke="#212121" stroke-width="0.6" stroke-linejoin="round" d="M17 11c.34 0 .67.04 1 .09V6.27L10.5 3 3 6.27v4.91c0 4.54 3.2 8.79 7.5 9.82.55-.13 1.08-.32 1.6-.55-.69-.98-1.1-2.17-1.1-3.45 0-3.31 2.69-6 6-6zm0 2c-2.21 0-4 1.79-4 4s1.79 4 4 4 4-1.79 4-4-1.79-4-4-4zm0 1.38c.62 0 1.12.51 1.12 1.12s-.51 1.12-1.12 1.12-1.12-.51-1.12-1.12.5-1.12 1.12-1.12zm0 5.37c-.93 0-1.74-.46-2.24-1.17.05-.72 1.51-1.08 2.24-1.08s2.19.36 2.24 1.08c-.5.71-1.31 1.17-2.24 1.17z"/></svg><div class="t" style="left:41.0px;top:260.3px;font-size:14.2px;line-height:17.04px;color:#212121;font-weight:normal;letter-spacing:0.3px;-webkit-text-stroke:0.25px #212121;transform:scaleX(0.86);transform-origin:left center">Administration Système</div><svg class="ic" style="left:237.5px;top:261.5px;width:19px;height:19px" viewBox="0 0 24 24"><path fill="#212121" stroke="#212121" stroke-width="1.2" stroke-linejoin="round" d="M16.59 8.59 12 13.17 7.41 8.59 6 10l6 6 6-6z"/></svg><svg class="ic" style="left:11.0px;top:297.0px;width:18px;height:18px" viewBox="0 0 24 24"><path fill="#212121" stroke="#212121" stroke-width="0.6" stroke-linejoin="round" d="M11.5 2C6.81 2 3 5.81 3 10.5S6.81 19 11.5 19h.5v3c4.86-2.34 8-7 8-11.5C20 5.81 16.19 2 11.5 2zm1 14.5h-2v-2h2v2zm.4-4.78c-.01.01-.02.03-.03.05-.05.08-.1.16-.14.24-.02.03-.03.07-.04.11-.03.07-.06.14-.08.21-.07.21-.1.43-.1.68H10.5c0-.51.08-.94.2-1.3.01-.03.01-.05.02-.08.01-.02.02-.04.03-.06.06-.16.13-.3.22-.44.03-.05.07-.1.1-.15.03-.04.05-.09.08-.12.03-.04.07-.07.1-.11.84-1.1 2.22-1.44 2.33-2.68.09-.98-.61-1.93-1.57-2.13-1.04-.22-1.98.39-2.3 1.28-.14.36-.47.65-.88.65h-.2c-.6 0-1.04-.59-.87-1.17.55-1.82 2.37-3.09 4.43-2.79 1.69.25 3.04 1.64 3.33 3.33.44 2.44-1.63 3.03-2.53 4.35z"/></svg><div class="t" style="left:41.0px;top:296.3px;font-size:14.2px;line-height:17.04px;color:#212121;font-weight:normal;letter-spacing:0.3px;-webkit-text-stroke:0.25px #212121;transform:scaleX(0.86);transform-origin:left center">Contactez-nous</div></div><div class="r" style="left:282px;top:40px;width:1144px;height:742px;background:#fff;box-shadow:0 1px 2px rgba(0,0,0,.15)"></div><div class="r" style="left:282px;top:788px;width:1144px;height:40px;background:#fff;"></div><div class="r" style="left:1437px;top:213px;width:3px;height:441px;background:#f04e23;"></div><div class="t" style="left:300.0px;top:66.0px;font-size:15px;line-height:18.0px;color:#212121;font-weight:bold;-webkit-text-stroke:0.05px currentColor;;transform:scaleX(0.94);transform-origin:left center">Compacité</div><svg class="ic" style="left:1396.0px;top:65.0px;width:16px;height:16px" viewBox="0 0 24 24"><path fill="#555" stroke="#555" stroke-width="0.6" stroke-linejoin="round" d="M12 8l-6 6 1.41 1.41L12 10.83l4.59 4.58L18 14z"/></svg><div class="t" style="left:300.0px;top:100.3px;font-size:12.8px;line-height:15.36px;color:#212121;font-weight:bold;-webkit-text-stroke:0.05px currentColor;;transform:scaleX(0.915);transform-origin:left center">Nucléodensimètre *</div><div class="t" style="left:303.0px;top:117.0px;font-size:13.4px;line-height:16.08px;color:#3f8fd2;font-weight:normal;-webkit-text-stroke:0.1px currentColor;transform:scaleX(0.92);transform-origin:left center">LAB-02</div><div class="t" style="left:514.0px;top:100.3px;font-size:12.8px;line-height:15.36px;color:#212121;font-weight:bold;-webkit-text-stroke:0.05px currentColor;;transform:scaleX(0.915);transform-origin:left center">Compacité requise *</div><div class="t" style="left:517.0px;top:117.0px;font-size:13.4px;line-height:16.08px;color:#707070;font-weight:normal;-webkit-text-stroke:0.1px currentColor;transform:scaleX(0.92);transform-origin:left center">93.0 %</div><div class="t" style="left:728.5px;top:100.3px;font-size:12.8px;line-height:15.36px;color:#212121;font-weight:bold;-webkit-text-stroke:0.05px currentColor;;transform:scaleX(0.915);transform-origin:left center">Épaisseur de la couche *</div><div class="t" style="left:731.5px;top:117.0px;font-size:13.4px;line-height:16.08px;color:#707070;font-weight:normal;-webkit-text-stroke:0.1px currentColor;transform:scaleX(0.92);transform-origin:left center">50 mm</div><div class="t" style="left:943.5px;top:100.3px;font-size:12.8px;line-height:15.36px;color:#212121;font-weight:bold;-webkit-text-stroke:0.05px currentColor;;transform:scaleX(0.915);transform-origin:left center">Taux de pose requis *</div><div class="t" style="left:946.5px;top:117.0px;font-size:13.4px;line-height:16.08px;color:#707070;font-weight:normal;-webkit-text-stroke:0.1px currentColor;transform:scaleX(0.92);transform-origin:left center">120.0 kg/m²</div><div class="t" style="left:1157.5px;top:100.3px;font-size:12.8px;line-height:15.36px;color:#212121;font-weight:bold;-webkit-text-stroke:0.05px currentColor;;transform:scaleX(0.915);transform-origin:left center">Densité de référence *</div><div class="t" style="left:1160.5px;top:117.0px;font-size:13.4px;line-height:16.08px;color:#707070;font-weight:normal;-webkit-text-stroke:0.1px currentColor;transform:scaleX(0.92);transform-origin:left center">2.495 g/cm³</div><svg class="ic" style="left:1381.0px;top:108.5px;width:18px;height:18px" viewBox="0 0 24 24"><path fill="#212121" stroke="#212121" stroke-width="0.6" stroke-linejoin="round" d="M3 17.25V21h3.75L17.81 9.94l-3.75-3.75L3 17.25zM20.71 7.04c.39-.39.39-1.02 0-1.41l-2.34-2.34a.996.996 0 0 0-1.41 0l-1.83 1.83 3.75 3.75 1.83-1.83z"/></svg><div class="t" style="left:300.0px;top:143.3px;font-size:12.8px;line-height:15.36px;color:#212121;font-weight:bold;-webkit-text-stroke:0.05px currentColor;;transform:scaleX(0.915);transform-origin:left center">Mode de lecture *</div><div class="t" style="left:303.0px;top:158.0px;font-size:13.4px;line-height:16px;color:#707070;font-weight:normal;-webkit-text-stroke:0.1px currentColor;transform:scaleX(0.92);transform-origin:left center">Rétrodiffusion (Backscatter Thin<br>mode)</div><div class="t" style="left:514.0px;top:143.3px;font-size:12.8px;line-height:15.36px;color:#212121;font-weight:bold;-webkit-text-stroke:0.05px currentColor;;transform:scaleX(0.915);transform-origin:left center">Compacité joint requise *</div><div class="t" style="left:517.0px;top:158.0px;font-size:13.4px;line-height:16.08px;color:#707070;font-weight:normal;-webkit-text-stroke:0.1px currentColor;transform:scaleX(0.92);transform-origin:left center">90.0 %</div><div class="t" style="left:728.5px;top:143.5px;font-size:12.8px;line-height:15px;color:#212121;font-weight:bold;-webkit-text-stroke:0.05px currentColor;;transform:scaleX(0.915);transform-origin:left center">Épaisseur prévue dans le<br>nucléodensimètre</div><div class="t" style="left:731.5px;top:174.0px;font-size:13.4px;line-height:16.08px;color:#707070;font-weight:normal;-webkit-text-stroke:0.1px currentColor;transform:scaleX(0.92);transform-origin:left center">38 mm</div><div class="t" style="left:943.5px;top:143.3px;font-size:12.8px;line-height:15.36px;color:#212121;font-weight:bold;-webkit-text-stroke:0.05px currentColor;;transform:scaleX(0.915);transform-origin:left center">Type de densité de référence *</div><div class="t" style="left:946.5px;top:158.0px;font-size:13.4px;line-height:16.08px;color:#707070;font-weight:normal;-webkit-text-stroke:0.1px currentColor;transform:scaleX(0.92);transform-origin:left center">Maximum</div><div class="t" style="left:1157.5px;top:143.3px;font-size:12.8px;line-height:15.36px;color:#212121;font-weight:bold;-webkit-text-stroke:0.05px currentColor;;transform:scaleX(0.915);transform-origin:left center">Facteur de justesse *</div><div class="t" style="left:1160.5px;top:158.0px;font-size:13.4px;line-height:16.08px;color:#707070;font-weight:normal;-webkit-text-stroke:0.1px currentColor;transform:scaleX(0.92);transform-origin:left center">0.0 kg/m³</div><div class="t" style="left:300.0px;top:200.3px;font-size:12.8px;line-height:15.36px;color:#212121;font-weight:bold;-webkit-text-stroke:0.05px currentColor;;transform:scaleX(0.915);transform-origin:left center">Nombre de couches *</div><div class="t" style="left:303.0px;top:216.0px;font-size:13.4px;line-height:16.08px;color:#707070;font-weight:normal;-webkit-text-stroke:0.1px currentColor;transform:scaleX(0.92);transform-origin:left center">1</div><div class="t" style="left:300.0px;top:247.0px;font-size:15px;line-height:18.0px;color:#212121;font-weight:bold;-webkit-text-stroke:0.05px currentColor;;transform:scaleX(0.94);transform-origin:left center">Mode aléatoire</div><div class="t" style="left:300.0px;top:284.3px;font-size:12.8px;line-height:15.36px;color:#212121;font-weight:bold;-webkit-text-stroke:0.05px currentColor;;transform:scaleX(0.915);transform-origin:left center">Compacité moyenne</div><div class="t" style="left:303.0px;top:300.5px;font-size:13.4px;line-height:16.08px;color:#707070;font-weight:normal;-webkit-text-stroke:0.1px currentColor;transform:scaleX(0.92);transform-origin:left center">94.9 %</div><div class="t" style="left:657.0px;top:284.3px;font-size:12.8px;line-height:15.36px;color:#212121;font-weight:bold;-webkit-text-stroke:0.05px currentColor;;transform:scaleX(0.915);transform-origin:left center">Compacité corrigée moyenne</div><div class="t" style="left:660.0px;top:300.5px;font-size:13.4px;line-height:16.08px;color:#707070;font-weight:normal;-webkit-text-stroke:0.1px currentColor;transform:scaleX(0.92);transform-origin:left center">94.9 %</div><div class="t" style="left:1014.5px;top:284.3px;font-size:12.8px;line-height:15.36px;color:#212121;font-weight:bold;-webkit-text-stroke:0.05px currentColor;;transform:scaleX(0.915);transform-origin:left center">Masse volumique moyenne</div><div class="t" style="left:1017.5px;top:300.5px;font-size:13.4px;line-height:16.08px;color:#707070;font-weight:normal;-webkit-text-stroke:0.1px currentColor;transform:scaleX(0.92);transform-origin:left center">2,361 kg/m³</div><div class="t" style="left:303.0px;top:339.8px;font-size:10.4px;line-height:12.48px;color:#212121;font-weight:normal;letter-spacing:.3px;-webkit-text-stroke:.4px #212121">Site</div><svg class="ic" style="left:324.5px;top:342.0px;width:10px;height:10px" viewBox="0 0 24 24"><path fill="#444" stroke="#444" stroke-width="1" stroke-linejoin="round" d="M20 12l-1.41-1.41L13 16.17V4h-2v12.17l-5.58-5.59L4 12l8 8 8-8z"/></svg><div class="t" style="left:465.5px;top:339.8px;font-size:10.4px;line-height:12.48px;color:#212121;font-weight:normal;letter-spacing:.3px;-webkit-text-stroke:.4px #212121">Heure</div><div class="t" style="left:627.5px;top:339.8px;font-size:10.4px;line-height:12.48px;color:#212121;font-weight:normal;letter-spacing:.3px;-webkit-text-stroke:.4px #212121">Travée</div><div class="t" style="right:512.0px;top:339.8px;font-size:10.4px;line-height:12.48px;color:#212121;font-weight:normal;letter-spacing:.3px;-webkit-text-stroke:.4px #212121">Masse volumique</div><div class="t" style="right:351.0px;top:339.8px;font-size:10.4px;line-height:12.48px;color:#212121;font-weight:normal;letter-spacing:.3px;-webkit-text-stroke:.4px #212121">Compacité</div><div class="t" style="right:188.5px;top:339.8px;font-size:10.4px;line-height:12.48px;color:#212121;font-weight:normal;letter-spacing:.3px;-webkit-text-stroke:.4px #212121">Compacité corrigée</div><svg class="ic" style="left:1380.5px;top:337.5px;width:17px;height:17px" viewBox="0 0 24 24"><path fill="#212121" stroke="#212121" stroke-width="0.8" stroke-linejoin="round" d="M19 13h-6v6h-2v-6H5v-2h6V5h2v6h6v2z"/></svg><div class="r" style="left:300px;top:367px;width:1108px;height:1px;background:#e0e0e0;"></div><div class="t" style="left:303.0px;top:379.9px;font-size:10.2px;line-height:12.239999999999998px;color:#212121;font-weight:normal;letter-spacing:.35px">000+000</div><div class="t" style="left:465.5px;top:379.9px;font-size:10.2px;line-height:12.239999999999998px;color:#212121;font-weight:normal;letter-spacing:.35px">13 h 17</div><div class="t" style="left:627.5px;top:379.9px;font-size:10.2px;line-height:12.239999999999998px;color:#212121;font-weight:normal;letter-spacing:.35px">2</div><div class="t" style="right:512.0px;top:379.9px;font-size:10.2px;line-height:12.239999999999998px;color:#212121;font-weight:normal;letter-spacing:.35px">2,200 kg/m³</div><div class="t" style="right:351.0px;top:379.9px;font-size:10.2px;line-height:12.239999999999998px;color:#e53935;font-weight:normal;letter-spacing:.35px">* 88.4 %</div><div class="t" style="right:188.5px;top:379.9px;font-size:10.2px;line-height:12.239999999999998px;color:#212121;font-weight:normal;letter-spacing:.35px">88.4 %</div><svg class="ic" style="left:1344.5px;top:377.5px;width:17px;height:17px" viewBox="0 0 24 24"><path fill="#212121" stroke="#212121" stroke-width="0.8" stroke-linejoin="round" d="M3 17.25V21h3.75L17.81 9.94l-3.75-3.75L3 17.25zM20.71 7.04c.39-.39.39-1.02 0-1.41l-2.34-2.34a.996.996 0 0 0-1.41 0l-1.83 1.83 3.75 3.75 1.83-1.83z"/></svg><svg class="ic" style="left:1380.5px;top:377.5px;width:17px;height:17px" viewBox="0 0 24 24"><path fill="#212121" stroke="#212121" stroke-width="0.3" stroke-linejoin="round" d="M12 8c1.1 0 2-.9 2-2s-.9-2-2-2-2 .9-2 2 .9 2 2 2zm0 2c-1.1 0-2 .9-2 2s.9 2 2 2 2-.9 2-2-.9-2-2-2zm0 6c-1.1 0-2 .9-2 2s.9 2 2 2 2-.9 2-2-.9-2-2-2z"/></svg><div class="r" style="left:300px;top:404px;width:1108px;height:36px;background:#ebebeb;"></div><div class="t" style="left:303.0px;top:415.9px;font-size:10.2px;line-height:12.239999999999998px;color:#212121;font-weight:normal;letter-spacing:.35px">000+000</div><div class="t" style="left:465.5px;top:415.9px;font-size:10.2px;line-height:12.239999999999998px;color:#212121;font-weight:normal;letter-spacing:.35px">13 h 19</div><div class="t" style="left:627.5px;top:415.9px;font-size:10.2px;line-height:12.239999999999998px;color:#212121;font-weight:normal;letter-spacing:.35px">2</div><div class="t" style="right:512.0px;top:415.9px;font-size:10.2px;line-height:12.239999999999998px;color:#212121;font-weight:normal;letter-spacing:.35px">2,400 kg/m³</div><div class="t" style="right:351.0px;top:415.9px;font-size:10.2px;line-height:12.239999999999998px;color:#212121;font-weight:normal;letter-spacing:.35px">96.5 %</div><div class="t" style="right:188.5px;top:415.9px;font-size:10.2px;line-height:12.239999999999998px;color:#212121;font-weight:normal;letter-spacing:.35px">96.5 %</div><svg class="ic" style="left:1308.5px;top:414.0px;width:16px;height:16px" viewBox="0 0 24 24"><path fill="#212121" stroke="#212121" stroke-width="0.8" stroke-linejoin="round" d="M17.65 6.35C16.2 4.9 14.21 4 12 4c-4.42 0-7.99 3.58-7.99 8s3.57 8 7.99 8c3.73 0 6.84-2.55 7.73-6h-2.08c-.82 2.33-3.04 4-5.65 4-3.31 0-6-2.69-6-6s2.69-6 6-6c1.66 0 3.14.69 4.22 1.78L13 11h7V4l-2.35 2.35z"/></svg><svg class="ic" style="left:1344.5px;top:413.5px;width:17px;height:17px" viewBox="0 0 24 24"><path fill="#212121" stroke="#212121" stroke-width="0.8" stroke-linejoin="round" d="M3 17.25V21h3.75L17.81 9.94l-3.75-3.75L3 17.25zM20.71 7.04c.39-.39.39-1.02 0-1.41l-2.34-2.34a.996.996 0 0 0-1.41 0l-1.83 1.83 3.75 3.75 1.83-1.83z"/></svg><svg class="ic" style="left:1380.5px;top:413.5px;width:17px;height:17px" viewBox="0 0 24 24"><path fill="#212121" stroke="#212121" stroke-width="0.3" stroke-linejoin="round" d="M12 8c1.1 0 2-.9 2-2s-.9-2-2-2-2 .9-2 2 .9 2 2 2zm0 2c-1.1 0-2 .9-2 2s.9 2 2 2 2-.9 2-2-.9-2-2-2zm0 6c-1.1 0-2 .9-2 2s.9 2 2 2 2-.9 2-2-.9-2-2-2z"/></svg><div class="t" style="left:303.0px;top:451.9px;font-size:10.2px;line-height:12.239999999999998px;color:#212121;font-weight:normal;letter-spacing:.35px">000+150</div><div class="t" style="left:465.5px;top:451.9px;font-size:10.2px;line-height:12.239999999999998px;color:#212121;font-weight:normal;letter-spacing:.35px">14 h 30</div><div class="t" style="left:627.5px;top:451.9px;font-size:10.2px;line-height:12.239999999999998px;color:#212121;font-weight:normal;letter-spacing:.35px">2</div><div class="t" style="right:512.0px;top:451.9px;font-size:10.2px;line-height:12.239999999999998px;color:#212121;font-weight:normal;letter-spacing:.35px">2,400 kg/m³</div><div class="t" style="right:351.0px;top:451.9px;font-size:10.2px;line-height:12.239999999999998px;color:#212121;font-weight:normal;letter-spacing:.35px">96.5 %</div><div class="t" style="right:188.5px;top:451.9px;font-size:10.2px;line-height:12.239999999999998px;color:#212121;font-weight:normal;letter-spacing:.35px">96.5 %</div><svg class="ic" style="left:1344.5px;top:449.5px;width:17px;height:17px" viewBox="0 0 24 24"><path fill="#212121" stroke="#212121" stroke-width="0.8" stroke-linejoin="round" d="M3 17.25V21h3.75L17.81 9.94l-3.75-3.75L3 17.25zM20.71 7.04c.39-.39.39-1.02 0-1.41l-2.34-2.34a.996.996 0 0 0-1.41 0l-1.83 1.83 3.75 3.75 1.83-1.83z"/></svg><svg class="ic" style="left:1380.5px;top:449.5px;width:17px;height:17px" viewBox="0 0 24 24"><path fill="#212121" stroke="#212121" stroke-width="0.3" stroke-linejoin="round" d="M12 8c1.1 0 2-.9 2-2s-.9-2-2-2-2 .9-2 2 .9 2 2 2zm0 2c-1.1 0-2 .9-2 2s.9 2 2 2 2-.9 2-2-.9-2-2-2zm0 6c-1.1 0-2 .9-2 2s.9 2 2 2 2-.9 2-2-.9-2-2-2z"/></svg><div class="r" style="left:300px;top:476px;width:1108px;height:36px;background:#f5f5f5;"></div><div class="t" style="left:303.0px;top:487.9px;font-size:10.2px;line-height:12.239999999999998px;color:#212121;font-weight:normal;letter-spacing:.35px">000+250</div><div class="t" style="left:465.5px;top:487.9px;font-size:10.2px;line-height:12.239999999999998px;color:#212121;font-weight:normal;letter-spacing:.35px">15 h 09</div><div class="t" style="left:627.5px;top:487.9px;font-size:10.2px;line-height:12.239999999999998px;color:#212121;font-weight:normal;letter-spacing:.35px">3</div><div class="t" style="right:512.0px;top:487.9px;font-size:10.2px;line-height:12.239999999999998px;color:#212121;font-weight:normal;letter-spacing:.35px">2,283 kg/m³</div><div class="t" style="right:351.0px;top:487.9px;font-size:10.2px;line-height:12.239999999999998px;color:#e53935;font-weight:normal;letter-spacing:.35px">* 91.8 %</div><div class="t" style="right:188.5px;top:487.9px;font-size:10.2px;line-height:12.239999999999998px;color:#212121;font-weight:normal;letter-spacing:.35px">91.8 %</div><svg class="ic" style="left:1344.5px;top:485.5px;width:17px;height:17px" viewBox="0 0 24 24"><path fill="#212121" stroke="#212121" stroke-width="0.8" stroke-linejoin="round" d="M3 17.25V21h3.75L17.81 9.94l-3.75-3.75L3 17.25zM20.71 7.04c.39-.39.39-1.02 0-1.41l-2.34-2.34a.996.996 0 0 0-1.41 0l-1.83 1.83 3.75 3.75 1.83-1.83z"/></svg><svg class="ic" style="left:1380.5px;top:485.5px;width:17px;height:17px" viewBox="0 0 24 24"><path fill="#212121" stroke="#212121" stroke-width="0.3" stroke-linejoin="round" d="M12 8c1.1 0 2-.9 2-2s-.9-2-2-2-2 .9-2 2 .9 2 2 2zm0 2c-1.1 0-2 .9-2 2s.9 2 2 2 2-.9 2-2-.9-2-2-2zm0 6c-1.1 0-2 .9-2 2s.9 2 2 2 2-.9 2-2-.9-2-2-2z"/></svg><div class="r" style="left:1296px;top:436px;width:44px;height:18px;background:#5f5f5f;border-radius:3px"></div><div class="t" style="left:1118.0px;width:400px;text-align:center;top:439.7px;font-size:8.8px;line-height:10.56px;color:#fff;font-weight:normal;-webkit-text-stroke:0.1px #fff">Reprise</div><div class="t" style="left:300.0px;top:527.0px;font-size:15px;line-height:18.0px;color:#212121;font-weight:bold;-webkit-text-stroke:0.05px currentColor;;transform:scaleX(0.94);transform-origin:left center">MTMD</div><div class="t" style="left:300.0px;top:563.3px;font-size:12.8px;line-height:15.36px;color:#212121;font-weight:bold;-webkit-text-stroke:0.05px currentColor;;transform:scaleX(0.915);transform-origin:left center">Compacité moyenne</div><div class="t" style="left:303.0px;top:579.5px;font-size:13.4px;line-height:16.08px;color:#707070;font-weight:normal;-webkit-text-stroke:0.1px currentColor;transform:scaleX(0.92);transform-origin:left center">96.5 %</div><div class="t" style="left:657.0px;top:563.3px;font-size:12.8px;line-height:15.36px;color:#212121;font-weight:bold;-webkit-text-stroke:0.05px currentColor;;transform:scaleX(0.915);transform-origin:left center">Compacité corrigée moyenne</div><div class="t" style="left:660.0px;top:579.5px;font-size:13.4px;line-height:16.08px;color:#707070;font-weight:normal;-webkit-text-stroke:0.1px currentColor;transform:scaleX(0.92);transform-origin:left center">96.5 %</div><div class="t" style="left:1014.5px;top:563.3px;font-size:12.8px;line-height:15.36px;color:#212121;font-weight:bold;-webkit-text-stroke:0.05px currentColor;;transform:scaleX(0.915);transform-origin:left center">Masse volumique moyenne</div><div class="t" style="left:1017.5px;top:579.5px;font-size:13.4px;line-height:16.08px;color:#707070;font-weight:normal;-webkit-text-stroke:0.1px currentColor;transform:scaleX(0.92);transform-origin:left center">2,401 kg/m³</div><div class="t" style="left:303.0px;top:618.8px;font-size:10.4px;line-height:12.48px;color:#212121;font-weight:normal;letter-spacing:.3px;-webkit-text-stroke:.4px #212121">Site</div><svg class="ic" style="left:324.5px;top:621.0px;width:10px;height:10px" viewBox="0 0 24 24"><path fill="#444" stroke="#444" stroke-width="1" stroke-linejoin="round" d="M20 12l-1.41-1.41L13 16.17V4h-2v12.17l-5.58-5.59L4 12l8 8 8-8z"/></svg><div class="t" style="left:465.5px;top:618.8px;font-size:10.4px;line-height:12.48px;color:#212121;font-weight:normal;letter-spacing:.3px;-webkit-text-stroke:.4px #212121">Heure</div><div class="t" style="left:627.5px;top:618.8px;font-size:10.4px;line-height:12.48px;color:#212121;font-weight:normal;letter-spacing:.3px;-webkit-text-stroke:.4px #212121">Travée</div><div class="t" style="right:512.0px;top:618.8px;font-size:10.4px;line-height:12.48px;color:#212121;font-weight:normal;letter-spacing:.3px;-webkit-text-stroke:.4px #212121">Masse volumique</div><div class="t" style="right:351.0px;top:618.8px;font-size:10.4px;line-height:12.48px;color:#212121;font-weight:normal;letter-spacing:.3px;-webkit-text-stroke:.4px #212121">Compacité</div><div class="t" style="right:188.5px;top:618.8px;font-size:10.4px;line-height:12.48px;color:#212121;font-weight:normal;letter-spacing:.3px;-webkit-text-stroke:.4px #212121">Compacité corrigée</div><svg class="ic" style="left:1380.5px;top:616.5px;width:17px;height:17px" viewBox="0 0 24 24"><path fill="#212121" stroke="#212121" stroke-width="0.8" stroke-linejoin="round" d="M19 13h-6v6h-2v-6H5v-2h6V5h2v6h6v2z"/></svg><div class="r" style="left:300px;top:646.5px;width:1108px;height:1px;background:#e0e0e0;"></div><div class="t" style="left:303.0px;top:659.4px;font-size:10.2px;line-height:12.239999999999998px;color:#212121;font-weight:normal;letter-spacing:.35px">000+435</div><div class="t" style="left:465.5px;top:659.4px;font-size:10.2px;line-height:12.239999999999998px;color:#212121;font-weight:normal;letter-spacing:.35px">13 h 26</div><div class="t" style="left:627.5px;top:659.4px;font-size:10.2px;line-height:12.239999999999998px;color:#212121;font-weight:normal;letter-spacing:.35px">1</div><div class="t" style="right:512.0px;top:659.4px;font-size:10.2px;line-height:12.239999999999998px;color:#212121;font-weight:normal;letter-spacing:.35px">2,401 kg/m³</div><div class="t" style="right:351.0px;top:659.4px;font-size:10.2px;line-height:12.239999999999998px;color:#212121;font-weight:normal;letter-spacing:.35px">96.5 %</div><div class="t" style="right:188.5px;top:659.4px;font-size:10.2px;line-height:12.239999999999998px;color:#212121;font-weight:normal;letter-spacing:.35px">96.5 %</div><svg class="ic" style="left:1344.5px;top:657.0px;width:17px;height:17px" viewBox="0 0 24 24"><path fill="#212121" stroke="#212121" stroke-width="0.8" stroke-linejoin="round" d="M3 17.25V21h3.75L17.81 9.94l-3.75-3.75L3 17.25zM20.71 7.04c.39-.39.39-1.02 0-1.41l-2.34-2.34a.996.996 0 0 0-1.41 0l-1.83 1.83 3.75 3.75 1.83-1.83z"/></svg><svg class="ic" style="left:1380.5px;top:657.0px;width:17px;height:17px" viewBox="0 0 24 24"><path fill="#212121" stroke="#212121" stroke-width="0.3" stroke-linejoin="round" d="M12 8c1.1 0 2-.9 2-2s-.9-2-2-2-2 .9-2 2 .9 2 2 2zm0 2c-1.1 0-2 .9-2 2s.9 2 2 2 2-.9 2-2-.9-2-2-2zm0 6c-1.1 0-2 .9-2 2s.9 2 2 2 2-.9 2-2-.9-2-2-2z"/></svg><div class="t" style="left:300.0px;top:699.5px;font-size:15px;line-height:18.0px;color:#212121;font-weight:bold;-webkit-text-stroke:0.05px currentColor;;transform:scaleX(0.94);transform-origin:left center">Étalonnage</div><div class="t" style="left:300.0px;top:743.5px;font-size:13.4px;line-height:16.08px;color:#a0a0a0;font-weight:normal;;transform:scaleX(0.9);transform-origin:left center">Aucune donnée</div><svg class="ic" style="left:1381.0px;top:743.5px;width:16px;height:16px" viewBox="0 0 24 24"><path fill="#212121" stroke="#212121" stroke-width="0.6" stroke-linejoin="round" d="M19 13h-6v6h-2v-6H5v-2h6V5h2v6h6v2z"/></svg><div class="t" style="left:300.0px;top:802.5px;font-size:15px;line-height:18.0px;color:#212121;font-weight:bold;-webkit-text-stroke:0.05px currentColor;;transform:scaleX(0.94);transform-origin:left center">Température</div></div>
</body></html>
